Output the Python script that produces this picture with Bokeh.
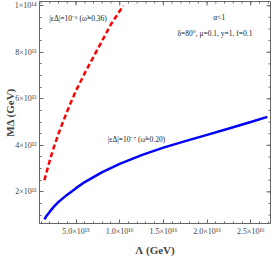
import math
from bokeh.plotting import figure
from bokeh.models import Range1d, FixedTicker, Label
from bokeh.embed import file_html
from bokeh.resources import INLINE

# Data (Lambda in GeV, M_Delta in GeV)
lam_red = [1.38e15, 2.0e15, 2.4e15, 3.0e15, 3.5e15, 4.3e15, 5.0e15, 6.0e15, 7.0e15, 8.0e15, 9.0e15, 1.04e16]
m_red = [2.5e13, 3.35e13, 3.85e13, 4.5e13, 5.0e13, 5.75e13, 6.35e13, 7.1e13, 7.8e13, 8.5e13, 9.2e13, 1.0e14]

lam_blue = [1.38e15, 1.6e15, 2.0e15, 2.5e15, 3.0e15, 4.0e15, 5.0e15, 6.0e15, 8.0e15, 1.0e16,
            1.25e16, 1.5e16, 1.75e16, 2.0e16, 2.25e16, 2.5e16, 2.69e16]
m_blue = [0.82e13, 0.95e13, 1.15e13, 1.38e13, 1.57e13, 1.88e13, 2.16e13, 2.42e13, 2.85e13, 3.2e13,
          3.58e13, 3.9e13, 4.18e13, 4.45e13, 4.72e13, 5.0e13, 5.22e13]

x_ticks = [5e15, 1e16, 1.5e16, 2e16, 2.5e16]
x_tick_labels = ["5.0×10¹⁵", "1.0×10¹⁶", "1.5×10¹⁶", "2.0×10¹⁶", "2.5×10¹⁶"]
y_ticks = [2e13, 4e13, 6e13, 8e13, 1e14]
y_tick_labels = ["2×10¹³", "4×10¹³", "6×10¹³", "8×10¹³", "1×10¹⁴"]
x_minor = [i * 1e15 for i in range(1, 28)]
y_minor = [i * 0.5e13 for i in range(2, 21)]

FONT = "Liberation Serif"
FRAME = "#666666"
X0, X1 = 0.82e15, 2.726e16
Y0, Y1 = 0.64e13, 1.018e14

p = figure(width=272, height=258, x_range=Range1d(X0, X1), y_range=Range1d(Y0, Y1),
           output_backend="svg", toolbar_location=None, min_border_left=36,
           min_border_right=2, min_border_top=1, min_border_bottom=29,
           background_fill_color="white", border_fill_color="white")
p.grid.visible = False
p.outline_line_color = FRAME

p.line(lam_red, m_red, line_color="#ff0000", line_width=2.5, line_dash="5 3")
p.line(lam_blue, m_blue, line_color="#0000ff", line_width=2.5)

xa = p.xaxis[0]
ya = p.yaxis[0]
for ax, ticks, labels, minor in ((xa, x_ticks, x_tick_labels, x_minor),
                                 (ya, y_ticks, y_tick_labels, y_minor)):
    ax.ticker = FixedTicker(ticks=ticks, minor_ticks=minor)
    ax.axis_line_color = FRAME
    ax.major_tick_line_color = FRAME
    ax.minor_tick_line_color = FRAME
    ax.major_tick_in = 4
    ax.major_tick_out = 0
    ax.minor_tick_in = 2
    ax.minor_tick_out = 0
    ax.major_label_overrides = {t: l for t, l in zip(ticks, labels)}
    ax.major_label_text_font = FONT
    ax.major_label_text_font_size = "8px"
    ax.major_label_text_color = "#444444"
    ax.major_label_standoff = 3
    ax.axis_label_text_font = FONT
    ax.axis_label_text_font_style = "bold"
    ax.axis_label_text_font_size = "11px"

xa.axis_label = "Λ (GeV)"
xa.axis_label_standoff = 5
ya.axis_label = "MΔ (GeV)"
ya.axis_label_standoff = -4

# mirrored tick marks on the top and right frame edges (half of each dash is clipped away)
p.scatter(x_ticks, [Y1] * len(x_ticks), marker="dash", angle=math.pi / 2, size=8,
          line_color=FRAME, line_width=1)
p.scatter(x_minor, [Y1] * len(x_minor), marker="dash", angle=math.pi / 2, size=4,
          line_color=FRAME, line_width=1)
p.scatter([X1] * len(y_ticks), y_ticks, marker="dash", size=8, line_color=FRAME, line_width=1)
p.scatter([X1] * len(y_minor), y_minor, marker="dash", size=4, line_color=FRAME, line_width=1)

def note(x, y, text, align="left"):
    p.add_layout(Label(x=x, y=y, text=text, text_font=FONT, text_font_size="7.5px",
                       text_color="#222222", text_align=align, text_baseline="middle"))

note(1.95e15, 9.44e13, "|εΔ|=10⁻⁶ (ω̃=0.36)")
note(2.14e16, 9.48e13, "α<1", "center")
note(2.09e16, 8.79e13, "δ=80°, μ=0.1, y=1, f=0.1", "center")
note(8.63e15, 4.24e13, "|εΔ|=10⁻⁷ (ω̃=0.20)")

open("out.html", "w").write(file_html(p, INLINE))
